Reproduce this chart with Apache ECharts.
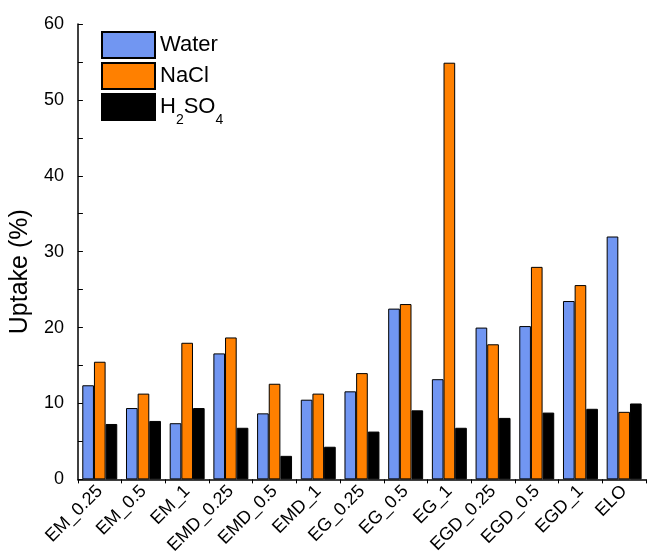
<!DOCTYPE html>
<html>
<head>
<meta charset="utf-8">
<script src="https://cdn.jsdelivr.net/npm/echarts@6/dist/echarts.min.js"></script>
<style>
  html, body { margin: 0; padding: 0; background: #fff; }
  #chart { width: 648px; height: 557px; }
</style>
</head>
<body>
<div id="chart"></div>
<script>
// Uptake of each sample in three media
const categories = ['EM_0.25', 'EM_0.5', 'EM_1', 'EMD_0.25', 'EMD_0.5', 'EMD_1',
  'EG_0.25', 'EG_0.5', 'EG_1', 'EGD_0.25', 'EGD_0.5', 'EGD_1', 'ELO'];
const water = [12.4, 9.4, 7.4, 16.6, 8.7, 10.5, 11.6, 22.5, 13.2, 20.0, 20.2, 23.5, 32.0];
const nacl  = [15.5, 11.3, 18.0, 18.7, 12.6, 11.3, 14.0, 23.1, 54.9, 17.8, 28.0, 25.6, 8.9];
const h2so4 = [7.3, 7.7, 9.4, 6.8, 3.1, 4.3, 6.3, 9.1, 6.8, 8.1, 8.8, 9.3, 10.0];
const yTicks = { min: 0, max: 60, interval: 10 };

const FONT = '"Liberation Sans", Arial, sans-serif';

const chart = echarts.init(document.getElementById('chart'), null, { renderer: 'canvas' });

function barSeries(name, data, color) {
  return {
    name: name,
    type: 'bar',
    data: data,
    barGap: '0%',
    barCategoryGap: '20%',
    itemStyle: { color: color, borderColor: '#000', borderWidth: 1 },
    emphasis: { disabled: true }
  };
}

chart.setOption({
  animation: false,
  textStyle: { fontFamily: FONT, color: '#000' },
  grid: { left: 74, right: 2, top: 24, bottom: 75, containLabel: false },
  legend: {
    orient: 'vertical',
    left: 96,
    top: 26,
    itemWidth: 53,
    itemHeight: 26,
    itemGap: 3,
    icon: 'rect',
    selectedMode: false,
    textStyle: {
      fontFamily: FONT,
      fontSize: 22,
      color: '#000',
      rich: {
        n: { fontFamily: FONT, fontSize: 22, color: '#000' },
        s: { fontFamily: FONT, fontSize: 14, color: '#000', padding: [26, 0, 0, 0] }
      }
    },
    formatter: function (name) {
      if (name === 'H2SO4') return '{n|H}{s|2}{n|SO}{s|4}';
      return name;
    },
    data: ['Water', 'NaCl', 'H2SO4']
  },
  xAxis: {
    type: 'category',
    data: categories,
    axisLine: { lineStyle: { color: '#000', width: 1.5 } },
    axisTick: { show: true, inside: false, length: 4, lineStyle: { color: '#000' } },
    axisLabel: {
      rotate: 45,
      fontSize: 18,
      fontFamily: FONT,
      color: '#000',
      margin: 9,
      interval: 0
    }
  },
  yAxis: {
    type: 'value',
    min: yTicks.min,
    max: yTicks.max,
    interval: yTicks.interval,
    name: 'Uptake (%)',
    nameLocation: 'middle',
    nameGap: 41,
    nameTextStyle: { fontFamily: FONT, fontSize: 25, color: '#000', padding: [0, 40, 0, 0] },
    axisLine: { show: true, lineStyle: { color: '#000', width: 1.5 } },
    axisTick: { show: true, inside: true, length: 5, lineStyle: { color: '#000' } },
    minorTick: { show: true, splitNumber: 2, length: 5, lineStyle: { color: '#000' } },
    splitLine: { show: false },
    axisLabel: { fontSize: 18, fontFamily: FONT, color: '#000', margin: 14 }
  },
  series: [
    barSeries('Water', water, '#7196f2'),
    barSeries('NaCl', nacl, '#ff8000'),
    barSeries('H2SO4', h2so4, '#000000')
  ]
});
</script>
</body>
</html>
